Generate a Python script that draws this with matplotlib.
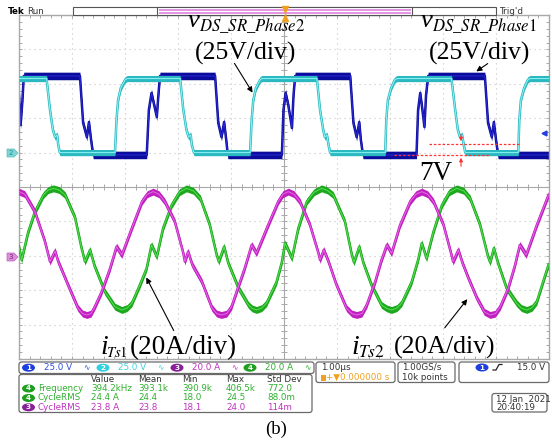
import matplotlib
matplotlib.use("Agg")
import matplotlib.pyplot as plt
import numpy as np
from matplotlib.patches import FancyBboxPatch, Ellipse, Polygon, Rectangle

plt.rcParams['mathtext.fontset'] = 'stix'
plt.rcParams['font.family'] = 'DejaVu Sans'

# ---- waveform data: (time in us, value in V or A) ----
# ch1 (blue)  v_DS_SR_Phase1
ch1_pts = [(0.00, 41.8), (0.03, 20.0), (0.065, 38.0), (0.09, 55.7), (1.15, 55.7), (1.21, 21.5),
           (1.28, 11.3), (1.32, 22.2), (1.36, 9.2), (1.40, -1.7), (2.41, -1.7), (2.45, 31.0),
           (2.50, 43.3), (2.55, 34.6), (2.60, 25.9), (2.63, 41.8), (2.66, 55.7), (3.70, 55.7),
           (3.76, 21.5), (3.82, 11.3), (3.87, 22.2), (3.91, 9.2), (3.94, -1.7), (4.96, -1.7),
           (4.99, 31.0), (5.03, 43.3), (5.08, 34.6), (5.15, 17.9), (5.18, 41.8), (5.21, 55.7),
           (6.25, 55.7), (6.31, 21.5), (6.37, 11.3), (6.42, 22.2), (6.45, 9.2), (6.49, -1.7),
           (7.50, -1.7), (7.53, 31.0), (7.57, 43.3), (7.60, 34.6), (7.65, 18.6), (7.68, 41.8),
           (7.72, 55.7), (8.79, 55.7), (8.85, 21.5), (8.92, 11.3), (8.96, 22.2), (9.00, 9.2),
           (9.04, -1.7), (10.0, -1.7)]

# ch2 (cyan)  v_DS_SR_Phase2
ch2_pts = [(0.00, 53.8), (0.52, 53.8), (0.585, 31.0), (0.64, 16.4), (0.68, 11.3), (0.72, 12.8),
           (0.74, 5.5), (0.77, 0.0), (1.81, 0.0), (1.84, 23.7), (1.87, 38.2), (1.92, 46.9),
           (2.00, 52.8), (2.04, 53.8), (3.04, 53.8), (3.10, 31.0), (3.16, 16.4), (3.20, 11.3),
           (3.24, 12.8), (3.26, 5.5), (3.30, 0.0), (4.36, 0.0), (4.39, 23.7), (4.42, 38.2),
           (4.47, 46.9), (4.55, 52.8), (4.58, 53.8), (5.62, 53.8), (5.68, 31.0), (5.74, 16.4),
           (5.77, 11.3), (5.81, 12.8), (5.84, 5.5), (5.87, 0.0), (6.91, 0.0), (6.93, 23.7),
           (6.96, 38.2), (7.02, 46.9), (7.09, 52.8), (7.13, 53.8), (8.16, 53.8), (8.23, 31.0),
           (8.28, 16.4), (8.32, 11.3), (8.36, 12.8), (8.39, 6.0), (8.42, 0.0), (9.42, 0.0),
           (9.44, 23.7), (9.47, 38.2), (9.53, 46.9), (9.60, 52.8), (9.64, 53.8), (10.0, 53.8)]

# ch3 (magenta)  i_Ts1
ch3_pts = [(0.00, 37.3), (0.11, 35.8), (0.30, 25.6), (0.49, 8.2), (0.585, -3.4), (0.68, 2.8),
           (0.74, -3.4), (0.925, -17.0), (1.11, -30.3), (1.20, -33.6), (1.28, -34.4), (1.36, -33.6),
           (1.43, -29.6), (1.56, -20.9), (1.72, -7.1), (1.84, 5.3), (1.94, 0.5), (2.13, 16.2),
           (2.32, 31.5), (2.42, 35.8), (2.53, 37.3), (2.64, 35.8), (2.75, 31.5), (2.94, 19.8),
           (3.10, 1.5), (3.13, -3.4), (3.19, 2.4), (3.27, -5.3), (3.45, -15.1), (3.64, -30.3),
           (3.73, -33.6), (3.82, -34.4), (3.92, -33.6), (4.01, -29.6), (4.13, -18.7), (4.26, -7.1),
           (4.39, 6.3), (4.48, 1.5), (4.70, 17.9), (4.89, 31.5), (4.98, 35.8), (5.08, 37.3),
           (5.19, 35.8), (5.30, 31.5), (5.49, 17.9), (5.65, 1.5), (5.68, -2.4), (5.75, 3.4),
           (5.84, -3.4), (5.99, -17.0), (6.18, -30.5), (6.28, -33.6), (6.37, -34.4), (6.47, -33.6),
           (6.56, -28.6), (6.72, -15.1), (6.84, -2.4), (6.94, 6.3), (7.03, 1.5), (7.19, 17.9),
           (7.38, 31.5), (7.49, 35.8), (7.60, 37.3), (7.71, 35.8), (7.82, 31.5), (8.01, 17.9),
           (8.16, 0.5), (8.19, -3.4), (8.29, 3.4), (8.37, -4.4), (8.48, -13.1), (8.64, -24.7),
           (8.78, -32.6), (8.89, -34.4), (8.99, -33.6), (9.08, -29.6), (9.23, -18.9), (9.36, -5.3),
           (9.45, 6.3), (9.57, 0.5), (9.77, 17.9), (9.99, 35.3)]

# ch4 (green)  i_Ts2
ch4_pts = [(0.00, 5.3), (0.05, -2.4), (0.175, 14.0), (0.30, 25.6), (0.46, 35.3), (0.55, 38.2),
           (0.65, 39.2), (0.76, 38.2), (0.87, 35.3), (1.06, 22.0), (1.18, 4.5), (1.245, -3.4),
           (1.34, 3.4), (1.43, -6.3), (1.62, -20.9), (1.81, -29.6), (1.94, -31.5), (2.04, -30.4),
           (2.13, -27.6), (2.28, -17.0), (2.41, -7.1), (2.50, 6.3), (2.60, -0.5), (2.72, 16.2),
           (2.88, 29.5), (3.03, 37.0), (3.16, 39.2), (3.29, 37.8), (3.42, 33.4), (3.60, 17.9),
           (3.73, 0.5), (3.77, -3.4), (3.87, 5.3), (3.95, -4.4), (4.14, -18.7), (4.33, -28.6),
           (4.40, -30.6), (4.48, -31.5), (4.58, -30.4), (4.67, -27.6), (4.86, -15.1), (4.96, -3.6),
           (5.02, 7.3), (5.15, -1.5), (5.27, 16.0), (5.43, 31.5), (5.57, 37.0), (5.71, 39.2),
           (5.82, 38.0), (5.93, 35.3), (6.15, 19.8), (6.28, 0.5), (6.32, -3.8), (6.42, 5.3),
           (6.50, -4.4), (6.65, -17.0), (6.84, -28.6), (6.94, -30.6), (7.03, -31.5), (7.13, -30.4),
           (7.22, -27.6), (7.41, -15.1), (7.53, -2.4), (7.60, 7.3), (7.69, -1.5), (7.82, 14.0),
           (7.98, 29.5), (8.12, 37.0), (8.26, 39.2), (8.39, 37.8), (8.51, 33.4), (8.70, 17.9),
           (8.85, -0.5), (8.89, -3.8), (8.96, 4.4), (9.04, -4.4), (9.20, -18.9), (9.39, -27.6),
           (9.48, -30.4), (9.58, -31.5), (9.68, -30.2), (9.77, -26.7), (9.99, -5.3)]

# channel settings: scale per div and ground position in divisions
ch_scale = {1: 25.0, 2: 25.0, 3: 20.0, 4: 20.0}
ch_pos = {1: 1.0, 2: 1.0, 3: -2.0, 4: -2.0}
ch_labels = ['25.0 V', '25.0 V', '20.0 A', '20.0 A']

# measurement table
meas_ch = [4, 4, 3]
meas_names = ['Frequency', 'CycleRMS', 'CycleRMS']
meas_value = ['394.2kHz', '24.4 A', '23.8 A']
meas_mean = ['393.1k', '24.4', '23.8']
meas_min = ['390.9k', '18.0', '18.1']
meas_max = ['406.5k', '24.5', '24.0']
meas_std = ['772.0', '88.0m', '114m']

badge_col = {1: '#1e3ee0', 2: '#30d0e0', 3: '#8a1f9a', 4: '#1f9f1f'}
text_col = {1: '#3050e0', 2: '#40d0e0', 3: '#c030c0', 4: '#2fb02f'}

W, H = 552, 445
fig = plt.figure(figsize=(W / 100, H / 100), dpi=100)
fig.patch.set_facecolor('white')

# ---- graticule ----
ax = fig.add_axes([19 / W, 86 / H, 530 / W, 344 / H])
ax.set_xlim(0, 10)
ax.set_ylim(-5, 5)
ax.set_xticks([])
ax.set_yticks([])
gcol = '#a8a8a8'
for s in ax.spines.values():
    s.set_color(gcol)
    s.set_linewidth(1.0)
for x in range(1, 10):
    if x != 5:
        ax.axvline(x, color='#c4c4c4', ls=(0, (1, 3.5)), lw=0.8, zorder=0)
for y in range(-4, 5):
    if y != 0:
        ax.axhline(y, color='#c4c4c4', ls=(0, (1, 3.5)), lw=0.8, zorder=0)
ax.axvline(5, color=gcol, lw=0.8, zorder=0)
ax.axhline(0, color=gcol, lw=0.8, zorder=0)
mx = np.arange(0, 10.01, 0.2)
my = np.arange(-5, 5.01, 0.2)
dx, dy = 0.06, 0.09
ax.vlines(mx, -dy, dy, color=gcol, lw=0.7, zorder=0)
ax.hlines(my, 5 - dx, 5 + dx, color=gcol, lw=0.7, zorder=0)
ax.vlines(mx, -5, -5 + dy, color=gcol, lw=0.7, zorder=0)
ax.vlines(mx, 5 - dy, 5, color=gcol, lw=0.7, zorder=0)
ax.hlines(my, 0, dx, color=gcol, lw=0.7, zorder=0)
ax.hlines(my, 10 - dx, 10, color=gcol, lw=0.7, zorder=0)


def draw(pts, ch, band, core, h, z):
    t, val = zip(*pts)
    y = ch_pos[ch] + np.asarray(val) / ch_scale[ch]
    ax.fill_between(t, y - h, y + h, color=band, lw=0, zorder=z)
    ax.plot(t, y, color=band, lw=1.8, zorder=z)
    ax.plot(t, y, color=core, lw=0.7, zorder=z + 0.1)


draw(ch1_pts, 1, '#0c0c9c', '#2a2ad8', 0.11, 2)
draw(ch2_pts, 2, '#2cb8c0', '#8ef4f4', 0.09, 3)
draw(ch4_pts, 4, '#1ea81e', '#55e055', 0.1, 4)
draw(ch3_pts, 3, '#c020c0', '#e46ae4', 0.1, 5)

# ---- overlay in pixel coordinates ----
ov = fig.add_axes([0, 0, 1, 1], zorder=5)
ov.set_xlim(0, W)
ov.set_ylim(H, 0)
ov.axis('off')
ov.patch.set_alpha(0)

ui = dict(fontsize=6.3, va='center', family='DejaVu Sans')

# top bar
ov.text(8, 11, 'Tek', fontweight='bold', **ui)
ov.text(27, 11, 'Run', color='#333333', **ui)
ov.add_patch(Rectangle((72.7, 7.3), 423.3, 7.7, fc='white', ec='#555555', lw=0.8))
ov.add_patch(Rectangle((157.3, 7.3), 254.7, 7.7, fc='white', ec='#555555', lw=0.8))
ov.hlines([9.6, 12.7], 158.5, 411, colors='#e08ce0', lw=1.3)
ov.vlines(285, 7, 19, color='#f0a020', lw=1.0)
ov.plot(285, 8.5, marker='v', color='#f0a020', ms=4)
ov.plot(285, 17.5, marker='^', color='#f0a020', ms=4)
ov.text(499, 11, "Trig'd", color='#333333', **ui)

# channel ground markers
ov.add_patch(Polygon([[7, 149], [14, 149], [18, 153], [14, 157], [7, 157]], fc='#7fd6d6', ec='#5bbcbc', lw=0.5))
ov.text(11, 153, '2', fontsize=5, ha='center', va='center', color='#2a8a8a')
ov.add_patch(Polygon([[7, 253], [14, 253], [18, 257], [14, 261], [7, 261]], fc='#d98fd9', ec='#bb66bb', lw=0.5))
ov.text(11, 257, '3', fontsize=5, ha='center', va='center', color='#7a207a')
ov.plot(544, 133, marker='<', color='#2040e0', ms=3.5)


def box(x0, y0, x1, y1):
    ov.add_patch(FancyBboxPatch((x0, y0), x1 - x0, y1 - y0,
                                boxstyle='round,pad=0,rounding_size=2.5',
                                fc='white', ec='#6a6a6a', lw=0.9))


def badge(cx, cy, ch):
    ov.add_patch(Ellipse((cx, cy), 13, 8, fc=badge_col[ch], ec='none'))
    ov.text(cx, cy, str(ch), fontsize=5.2, fontweight='bold', color='white',
            ha='center', va='center')


# channel bar
box(19, 362, 314, 373.5)
cy = 367.7
for k, (bx, tx, sx) in enumerate([(28.5, 44, 86), (103, 118, 160), (177, 192, 234), (250, 265, 307)]):
    ch = k + 1
    badge(bx, cy, ch)
    ov.text(tx, cy, ch_labels[k], color=text_col[ch], **ui)
    ov.text(sx, cy, '\u223f', color=text_col[ch], fontsize=5.5, ha='center', va='center')

# timebase / acquisition / trigger boxes
box(316, 362, 395, 382.5)
ov.text(321, 367.5, '1.00\u00b5s', color='#333333', **ui)
ov.add_patch(Rectangle((321, 374.5), 4.5, 6, fc='#f0a020', ec='none'))
ov.text(326.5, 377.8, '+\u25bc0.000000 s', color='#f0a020', **ui)
box(398, 362, 455, 382.5)
ov.text(402, 367.5, '1.00GS/s', color='#333333', **ui)
ov.text(402, 377.8, '10k points', color='#333333', **ui)
box(459, 362, 549, 382.5)
badge(482, 367.5, 1)
ov.plot([493, 496, 499, 502], [370, 370, 364.5, 364.5], color='#222222', lw=0.9)
ov.text(545, 367.5, '15.0 V', color='#333333', ha='right', fontsize=6.3, va='center')

# measurement table
box(19, 374.5, 312, 412.5)
cols = [91, 138, 182, 226, 267]
for x, hdr in zip(cols, ['Value', 'Mean', 'Min', 'Max', 'Std Dev']):
    ov.text(x, 379.5, hdr, color='#333333', **ui)
for r, yy in enumerate([388.5, 398, 407.3]):
    ch = meas_ch[r]
    badge(28.5, yy, ch)
    c = text_col[ch]
    ov.text(38, yy, meas_names[r], color=c, **ui)
    for x, s in zip(cols, [meas_value[r], meas_mean[r], meas_min[r], meas_max[r], meas_std[r]]):
        ov.text(x, yy, s, color=c, **ui)

# date box
box(492, 393.5, 547, 412)
ov.text(496, 399, '12 Jan  2021', color='#333333', **ui)
ov.text(496, 407.3, '20:40:19', color='#333333', **ui)

# ---- annotations ----
serif = 'Liberation Serif'
ov.text(188, 27, 'v', fontsize=19, style='italic', family=serif, va='baseline')
ov.text(199, 31.5, r'$DS\_SR\_Phase\mathrm{2}$', fontsize=12, va='baseline')
ov.text(195, 60, '(25V/div)', fontsize=18.5, family=serif, va='baseline')
ov.annotate('', xy=(254, 95), xytext=(233, 61),
            arrowprops=dict(arrowstyle='-|>', color='black', lw=0.8, mutation_scale=8))

ov.text(421, 27, 'v', fontsize=19, style='italic', family=serif, va='baseline')
ov.text(432, 31.5, r'$DS\_SR\_Phase\mathrm{1}$', fontsize=12, va='baseline')
ov.text(429, 60, '(25V/div)', fontsize=18.5, family=serif, va='baseline')
ov.annotate('', xy=(474, 73), xytext=(490, 62),
            arrowprops=dict(arrowstyle='-|>', color='black', lw=0.8, mutation_scale=8))

# 7V measurement
ov.hlines(144, 429, 519, color='#ff3030', ls=(0, (2, 1.5)), lw=0.9)
ov.hlines(155, 394, 489, color='#ff3030', ls=(0, (2, 1.5)), lw=0.9)
ov.annotate('', xy=(461, 144), xytext=(461, 132),
            arrowprops=dict(arrowstyle='-|>', color='#ff3030', lw=0.8, mutation_scale=5))
ov.annotate('', xy=(461, 155), xytext=(461, 169),
            arrowprops=dict(arrowstyle='-|>', color='#ff3030', lw=0.8, mutation_scale=5))
ov.text(419, 180, '7V', fontsize=19.5, family=serif, va='baseline')

# current labels
ov.text(100, 354, 'i', fontsize=20, style='italic', family=serif, va='baseline')
ov.text(106.5, 357, r'$Ts\mathrm{1}$', fontsize=10.5, va='baseline')
ov.text(130, 354, '(20A/div)', fontsize=19.5, family=serif, va='baseline')
ov.annotate('', xy=(145, 275), xytext=(175, 333),
            arrowprops=dict(arrowstyle='-|>', color='black', lw=0.8, mutation_scale=8))
ov.text(351, 354, 'i', fontsize=20, style='italic', family=serif, va='baseline')
ov.text(358, 357, r'$Ts\mathrm{2}$', fontsize=12.5, va='baseline')
ov.text(394, 354, '(20A/div)', fontsize=18.5, family=serif, va='baseline')
ov.annotate('', xy=(469, 297), xytext=(443, 330),
            arrowprops=dict(arrowstyle='-|>', color='black', lw=0.8, mutation_scale=8))

ov.text(276, 434, '(b)', fontsize=13.5, family=serif, ha='center', va='baseline')

fig.savefig('out.png', dpi=100)
